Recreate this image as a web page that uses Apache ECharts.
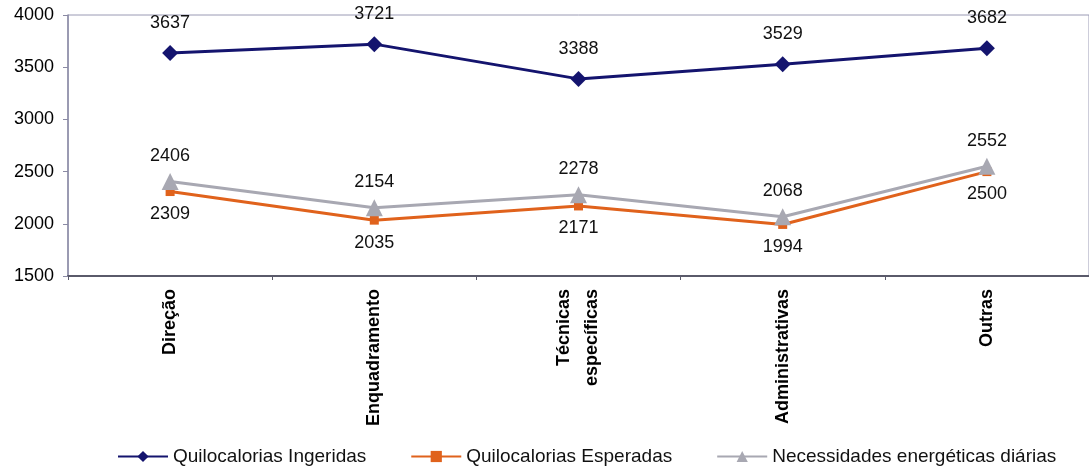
<!DOCTYPE html>
<html>
<head>
<meta charset="utf-8">
<script src="https://cdn.jsdelivr.net/npm/echarts@6/dist/echarts.min.js"></script>
<style>
  html, body { margin: 0; padding: 0; background: #ffffff; }
  #chart { width: 1089px; height: 473px; }
</style>
</head>
<body>
<div id="chart"></div>
<script>
// Professional groups
const categories = ['Direção', 'Enquadramento', 'Técnicas\nespecíficas', 'Administrativas', 'Outras'];

// Daily kilocalories per group
const ingeridas = [3637, 3721, 3388, 3529, 3682];
const esperadas = [2309, 2035, 2171, 1994, 2500];
const necessidades = [2406, 2154, 2278, 2068, 2552];

const seriesNames = ['Quilocalorias Ingeridas', 'Quilocalorias Esperadas', 'Necessidades energéticas diárias'];

const yMin = 1500, yMax = 4000, yStep = 500;

const font = 'Liberation Sans, Arial, sans-serif';

const chart = echarts.init(document.getElementById('chart'));

chart.setOption({
  backgroundColor: '#ffffff',
  animation: false,
  textStyle: { fontFamily: font },
  grid: {
    left: 68, top: 15, right: -8, bottom: 197,
    show: true, borderColor: '#9a9ab4', borderWidth: 1, backgroundColor: 'transparent'
  },
  legend: {
    bottom: 2, left: 112,
    itemWidth: 50, itemHeight: 14, itemGap: 44,
    textStyle: { fontSize: 19, color: '#111', fontFamily: font },
    data: seriesNames
  },
  xAxis: {
    type: 'category',
    data: categories,
    boundaryGap: true,
    axisLine: { show: true, lineStyle: { color: '#5a5a6a', width: 2 } },
    axisTick: { show: true, length: 4, lineStyle: { color: '#5a5a6a' } },
    axisLabel: {
      rotate: 90, margin: 13, fontSize: 18, fontWeight: 'bold', color: '#000',
      fontFamily: font, lineHeight: 28
    },
    splitLine: { show: false }
  },
  yAxis: {
    type: 'value',
    min: yMin, max: yMax, interval: yStep,
    axisLine: { show: true, lineStyle: { color: '#8a8aa4', width: 1.5 } },
    axisTick: { show: true, length: 5, lineStyle: { color: '#8a8aa4' } },
    axisLabel: {
      fontSize: 18, color: '#000', margin: 14, fontFamily: font,
      formatter: v => String(v)
    },
    splitLine: { show: false }
  },
  series: [
    {
      name: seriesNames[0], type: 'line', data: ingeridas,
      symbol: 'diamond', symbolSize: 16,
      lineStyle: { color: '#14146e', width: 3 },
      itemStyle: { color: '#14146e' },
      label: { show: true, position: 'top', distance: 13, fontSize: 18, color: '#111', fontFamily: font },
      z: 3
    },
    {
      name: seriesNames[1], type: 'line', data: esperadas,
      symbol: 'rect', symbolSize: 9,
      lineStyle: { color: '#e0621c', width: 3 },
      itemStyle: { color: '#e0621c' },
      label: { show: true, position: 'bottom', distance: 9, fontSize: 18, color: '#111', fontFamily: font },
      z: 2
    },
    {
      name: seriesNames[2], type: 'line', data: necessidades,
      symbol: 'triangle', symbolSize: 17,
      lineStyle: { color: '#a8a8b2', width: 3 },
      itemStyle: { color: '#a8a8b2' },
      label: { show: true, position: 'top', distance: 8, fontSize: 18, color: '#111', fontFamily: font },
      z: 4
    }
  ]
});
</script>
</body>
</html>
